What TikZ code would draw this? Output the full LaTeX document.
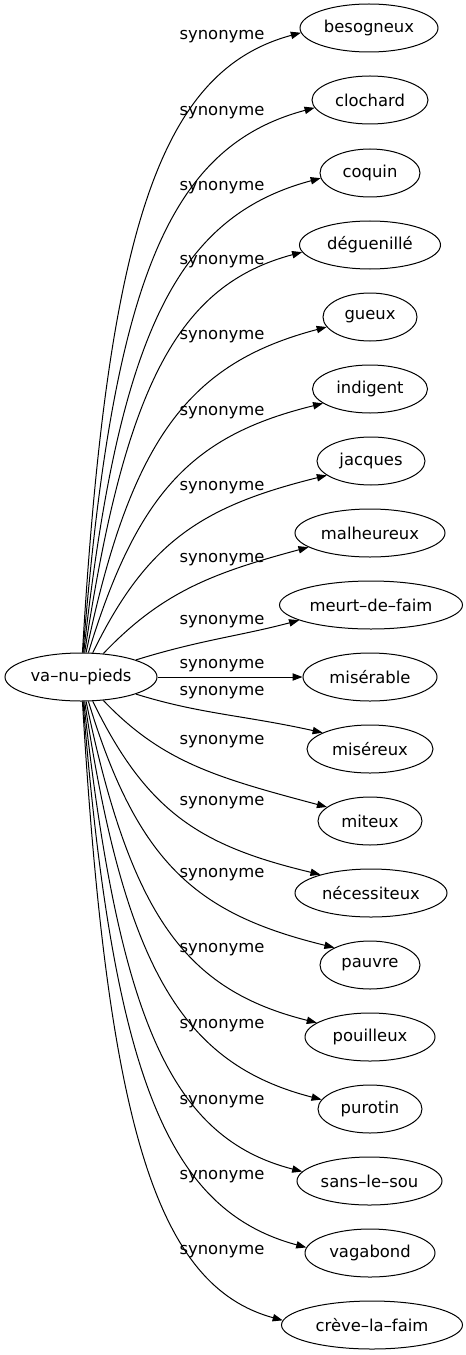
\documentclass[tikz,border=0pt]{standalone}
\usepackage{fontspec}
\setmainfont{DejaVu Sans}
\usetikzlibrary{shapes.geometric,arrows.meta}

\begin{document}
\begin{tikzpicture}[x=0.75pt, y=-0.75pt, line width=0.75pt,
word_style/.style={ellipse,draw=black,inner sep=0pt,minimum height=36pt,font=\fontsize{12.3}{14}\selectfont},
label_style/.style={inner sep=0pt,font=\fontsize{12.3}{14}\selectfont},
edge_style/.style={draw=black,-{Triangle[length=7.5pt,width=5.5pt]}}]
\useasboundingbox (0,0) rectangle (465,1355);

\node[word_style, minimum width=114pt] (va) at (81,677) {va–nu–pieds};

\node[word_style, minimum width=103.5pt] (besogneux) at (369,28) {besogneux};
\node[word_style, minimum width=87pt] (clochard) at (370,100) {clochard};
\node[word_style, minimum width=75pt] (coquin) at (370,173) {coquin};
\node[word_style, minimum width=105.75pt] (deguenille) at (370,245) {déguenillé};
\node[word_style, minimum width=70.5pt] (gueux) at (370,317) {gueux};
\node[word_style, minimum width=86.25pt] (indigent) at (370,389) {indigent};
\node[word_style, minimum width=81pt] (jacques) at (371,461) {jacques};
\node[word_style, minimum width=112.5pt] (malheureux) at (370,533) {malheureux};
\node[word_style, minimum width=137.25pt] (meurt) at (371,605) {meurt–de–faim};
\node[word_style, minimum width=100.5pt] (miserable) at (370,677) {misérable};
\node[word_style, minimum width=94.5pt] (misereux) at (370,749) {miséreux};
\node[word_style, minimum width=78pt] (miteux) at (370,821) {miteux};
\node[word_style, minimum width=114pt] (necessiteux) at (371,893) {nécessiteux};
\node[word_style, minimum width=75pt] (pauvre) at (370,965) {pauvre};
\node[word_style, minimum width=97.5pt] (pouilleux) at (370,1037) {pouilleux};
\node[word_style, minimum width=78pt] (purotin) at (370,1109) {purotin};
\node[word_style, minimum width=108.75pt] (sanslesou) at (369.5,1181) {sans–le–sou};
\node[word_style, minimum width=97.5pt] (vagabond) at (370,1253) {vagabond};
\node[word_style, minimum width=135.75pt] (creve) at (372,1325) {crève–la–faim};

% labels
\node[label_style] (l1) at (222,37) {synonyme};
\node[label_style] (l2) at (222,113) {synonyme};
\node[label_style] (l3) at (222,188) {synonyme};
\node[label_style] (l4) at (222,262) {synonyme};
\node[label_style] (l5) at (222,337) {synonyme};
\node[label_style] (l6) at (222,413) {synonyme};
\node[label_style] (l7) at (222,488) {synonyme};
\node[label_style] (l8) at (222,560) {synonyme};
\node[label_style] (l9) at (222,622) {synonyme};
\node[label_style] (l10) at (222,666) {synonyme};
\node[label_style] (l11) at (222,693) {synonyme};
\node[label_style] (l12) at (222,742) {synonyme};
\node[label_style] (l13) at (222,803) {synonyme};
\node[label_style] (l14) at (222,875) {synonyme};
\node[label_style] (l15) at (222,950) {synonyme};
\node[label_style] (l16) at (222,1026) {synonyme};
\node[label_style] (l17) at (222,1102) {synonyme};
\node[label_style] (l18) at (222,1177) {synonyme};
\node[label_style] (l19) at (222,1252) {synonyme};

% edges
\draw[edge_style] (va) .. controls (107.5,226) and (161,70.5) .. (besogneux.184);
\draw[edge_style] (va) .. controls (113,279) and (169.5,146.5) .. (clochard.188);
\draw[edge_style] (va) .. controls (119,332) and (177.5,216.5) .. (coquin.186);
\draw[edge_style] (va) .. controls (125,384.5) and (178.5,285) .. (deguenille.186);
\draw[edge_style] (va) .. controls (131,437) and (190,363) .. (gueux.193);
\draw[edge_style] (va) .. controls (138,489.5) and (194.5,435) .. (indigent.197);
\draw[edge_style] (va) .. controls (147,541) and (203,506) .. (jacques.198);
\draw[edge_style] (va) .. controls (162,592) and (212.5,573) .. (malheureux.193);
\draw[edge_style] (va) .. controls (200,640) and (240,636) .. (meurt.192);
\draw[edge_style] (va) -- (miserable);
\draw[edge_style] (va) .. controls (200,714) and (242.5,715) .. (misereux.161);
\draw[edge_style] (va) .. controls (162,762) and (216,777.5) .. (miteux.162);
\draw[edge_style] (va) .. controls (147,813) and (201,846) .. (necessiteux.160);
\draw[edge_style] (va) .. controls (138,864.5) and (197,914) .. (pauvre.154);
\draw[edge_style] (va) .. controls (131,917) and (186,990) .. (pouilleux.165);
\draw[edge_style] (va) .. controls (125,969.5) and (183,1064) .. (purotin.169);
\draw[edge_style] (va) .. controls (119,1022) and (172,1138) .. (sanslesou.172);
\draw[edge_style] (va) .. controls (113,1075) and (167,1210) .. (vagabond.175);
\draw[edge_style] (va) .. controls (107.5,1128) and (157,1286) .. (creve.177);
\end{tikzpicture}
\end{document}
